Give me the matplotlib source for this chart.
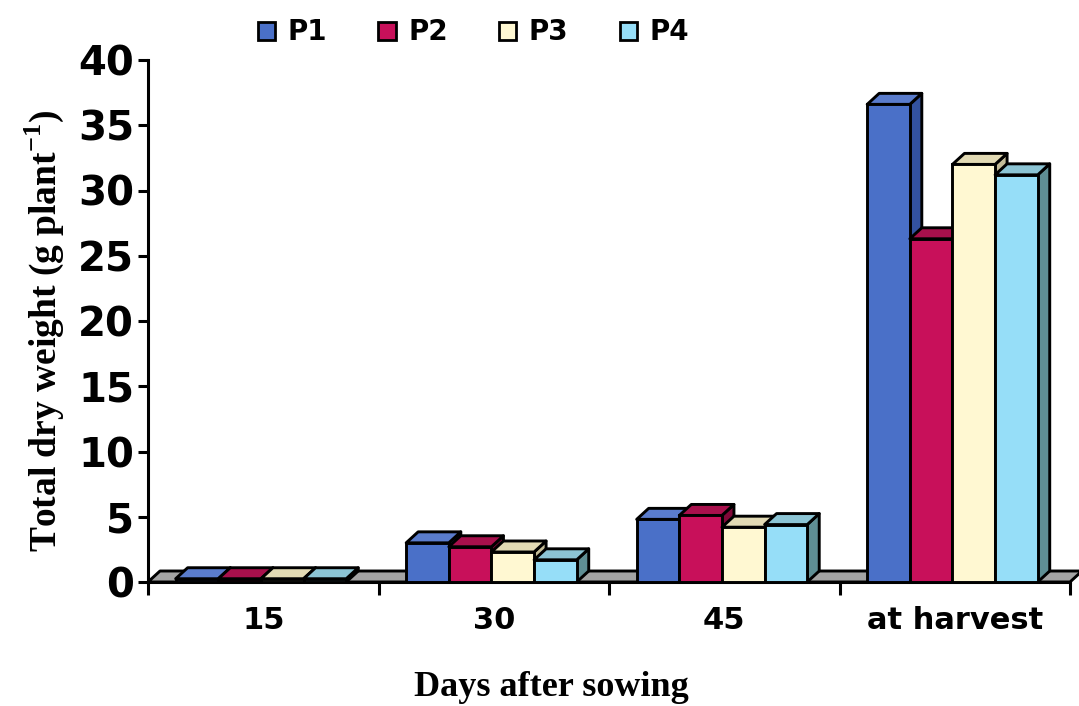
import matplotlib
matplotlib.use("Agg")
import matplotlib.pyplot as plt
from matplotlib.patches import Polygon, Patch

plt.rcParams['mathtext.fontset'] = 'custom'
plt.rcParams['mathtext.rm'] = 'Liberation Serif'
plt.rcParams['mathtext.bf'] = 'Liberation Serif:bold'

categories = ['15', '30', '45', 'at harvest']
series = ['P1', 'P2', 'P3', 'P4']
p1 = [0.25, 3.0, 4.8, 36.6]
p2 = [0.25, 2.7, 5.1, 26.3]
p3 = [0.25, 2.3, 4.2, 32.0]
p4 = [0.25, 1.7, 4.4, 31.2]
values = [p1, p2, p3, p4]

front = ['#4a70c8', '#c8105a', '#fff8d2', '#96def8']
top = ['#5a7ccc', '#a8104c', '#e2dab4', '#8cc4d4']
side = ['#3352a0', '#800838', '#c4bc98', '#5f8e94']

W, H = 1079, 706
fig = plt.figure(figsize=(W / 100, H / 100), dpi=100)
ax = fig.add_axes([148 / W, (H - 582) / H, 922 / W, 522 / H])
ax.set_xlim(0, 4)
ax.set_ylim(0, 40)

# depth of the fake 3d boxes, in data units
dx = 12 / 230.5
dy = 11 / 13.05
bw = 0.185
start = 0.12
lw = 2.1

# floor
floor = Polygon([(0, 0), (4, 0), (4 + dx, dy), (dx, dy)], closed=True,
                facecolor='#a4a4a4', edgecolor='black', lw=lw, zorder=1,
                clip_on=False, joinstyle='round')
ax.add_patch(floor)

for k, vals in enumerate(values):
    xs = [i + start + (k + 0.5) * bw for i in range(len(categories))]
    z = 2 + k * 0.1
    for x, v in zip(xs, vals):
        x0, x1 = x - bw / 2, x + bw / 2
        ax.add_patch(Polygon([(x1, 0), (x1 + dx, dy), (x1 + dx, v + dy), (x1, v)],
                             facecolor=side[k], edgecolor='black', lw=lw, zorder=z,
                             clip_on=False, joinstyle='round'))
        ax.add_patch(Polygon([(x0, v), (x1, v), (x1 + dx, v + dy), (x0 + dx, v + dy)],
                             facecolor=top[k], edgecolor='black', lw=lw, zorder=z,
                             clip_on=False, joinstyle='round'))
    ax.bar(xs, vals, width=bw, color=front[k], edgecolor='black', lw=lw,
           zorder=z + 0.05, clip_on=False)

for s in ['top', 'right']:
    ax.spines[s].set_visible(False)
ax.spines['left'].set_linewidth(2.2)
ax.spines['bottom'].set_linewidth(2.2)
ax.spines['bottom'].set_zorder(1.5)

ax.set_yticks(range(0, 41, 5))
ax.set_yticklabels([str(v) for v in range(0, 41, 5)], fontsize=29,
                   fontweight='bold', family='DejaVu Sans')
ax.tick_params(axis='y', direction='out', length=7, width=2.2, pad=3)

ax.set_xticks([0, 1, 2, 3, 4])
ax.set_xticklabels([])
ax.tick_params(axis='x', which='major', direction='out', length=9, width=2.2)
ax.set_xticks([0.5, 1.5, 2.5, 3.5], minor=True)
ax.set_xticklabels(categories, minor=True, fontsize=22, fontweight='bold',
                   family='DejaVu Sans')
ax.tick_params(axis='x', which='minor', length=0, pad=17)

fig.text(44 / W, 1 - 331 / H, 'Total dry weight (g plant$^{\\mathbf{-1}}$)',
         rotation=90, ha='center', va='center', fontsize=27, fontweight='bold',
         family='Liberation Serif')
fig.text(551 / W, 1 - 688 / H, 'Days after sowing', ha='center', va='center',
         fontsize=26, fontweight='bold', family='Liberation Serif')

handles = [Patch(facecolor=front[k], edgecolor='black', lw=2) for k in range(4)]
fig.legend(handles, series, loc='center left', bbox_to_anchor=(0.226, 0.954),
           ncol=4, frameon=False, borderpad=0, handlelength=0.62, handleheight=0.62,
           handletextpad=0.45, columnspacing=1.85,
           prop={'family': 'DejaVu Sans', 'weight': 'bold', 'size': 20})

fig.savefig('out.png', dpi=100)
